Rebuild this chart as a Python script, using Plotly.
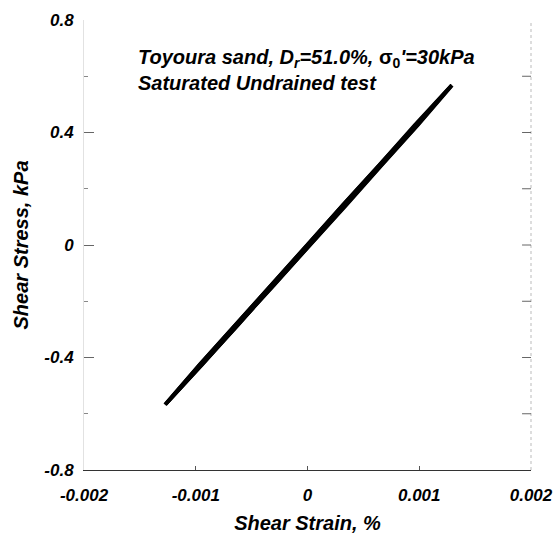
import plotly.graph_objects as go

# Stress-strain loops from a cyclic undrained test (three overlapping cycles)
strain_c1 = [-0.001275, -0.000950, -0.000630, -0.000300, 0.000020, 0.000345, 0.000662, 0.000985, 0.001293,
             0.000965, 0.000640, 0.000318, 0.000000, -0.000325, -0.000645, -0.000965, -0.001275]
stress_c1 = [-0.568, -0.426, -0.284, -0.142, 0.000, 0.142, 0.284, 0.426, 0.568,
             0.426, 0.284, 0.142, 0.000, -0.142, -0.284, -0.426, -0.568]

strain_c2 = [-0.001268, -0.000962, -0.000640, -0.000322, 0.000002, 0.000318, 0.000645, 0.000960, 0.001285,
             0.000980, 0.000660, 0.000342, 0.000018, -0.000300, -0.000625, -0.000945, -0.001268]
stress_c2 = [-0.565, -0.424, -0.282, -0.140, 0.002, 0.143, 0.285, 0.427, 0.566,
             0.425, 0.283, 0.141, -0.001, -0.143, -0.285, -0.427, -0.565]

strain_c3 = [-0.001262, -0.000945, -0.000620, -0.000312, 0.000012, 0.000335, 0.000650, 0.000975, 0.001280,
             0.000972, 0.000652, 0.000330, 0.000008, -0.000315, -0.000638, -0.000955, -0.001262]
stress_c3 = [-0.563, -0.427, -0.285, -0.143, 0.001, 0.141, 0.283, 0.425, 0.563,
             0.427, 0.285, 0.143, 0.001, -0.141, -0.283, -0.425, -0.563]

x_ticks = [-0.002, -0.001, 0, 0.001, 0.002]
x_labels = ["-0.002", "-0.001", "0", "0.001", "0.002"]
y_ticks = [-0.8, -0.4, 0, 0.4, 0.8]
y_labels = ["-0.8", "-0.4", "0", "0.4", "0.8"]
y_minor = [-0.6, -0.2, 0.2, 0.6]
right_ticks = [-0.6, -0.4, -0.2, 0, 0.2, 0.4, 0.6]

FONT = "Liberation Sans, Arial, sans-serif"
BI = dict(family=FONT, color="black", weight="bold", style="italic")

fig = go.Figure()
for sx, sy, w in [(strain_c1, stress_c1, 4.0), (strain_c2, stress_c2, 3.6), (strain_c3, stress_c3, 3.4)]:
    fig.add_trace(go.Scatter(x=sx, y=sy, mode="lines",
                             line=dict(color="black", width=w),
                             showlegend=False, hoverinfo="skip"))

fig.add_annotation(
    x=0.0, xref="paper", y=1.0, yref="paper",
    xanchor="left", yanchor="top", xshift=52, yshift=-24,
    align="left", showarrow=False,
    text=("<b><i>Toyoura sand, D<sub>r</sub>=51.0%, </i>σ<sub>0</sub><i>'=30kPa</i></b><br>"
          "<b><i>Saturated Undrained test</i></b>"),
    font=dict(family=FONT, size=20, color="black"),
)

fig.update_layout(
    width=558, height=536,
    margin=dict(l=84, r=27, t=20, b=66),
    paper_bgcolor="white", plot_bgcolor="white",
    font=dict(family=FONT, color="black"),
)

fig.update_xaxes(
    range=[-0.002, 0.002], tickvals=x_ticks, ticktext=x_labels,
    showgrid=False, zeroline=False, automargin=False,
    showline=True, linecolor="#333333", linewidth=1.2, mirror=False,
    ticks="inside", ticklen=4, tickcolor="#555555", ticklabelstandoff=9,
    tickfont=dict(BI, size=17),
    title=dict(text="Shear Strain, %", standoff=12, font=dict(BI, size=20)),
)
fig.update_yaxes(
    range=[-0.8, 0.8], tickvals=y_ticks, ticktext=y_labels,
    showgrid=False, zeroline=False, automargin=False,
    showline=True, linecolor="#e2e2e2", linewidth=1, mirror=False,
    ticks="inside", ticklen=10, tickcolor="#666666", ticklabelstandoff=6,
    minor=dict(tickvals=y_minor, ticks="inside", ticklen=4, tickcolor="#888888"),
    tickfont=dict(BI, size=17),
    title=dict(text="Shear Stress, kPa", standoff=10, font=dict(BI, size=20)),
)

# faint right-hand frame with short inward ticks
fig.add_shape(type="line", xref="paper", yref="paper", x0=1, x1=1, y0=0, y1=1,
              line=dict(color="#bbbbbb", width=1, dash="dot"))
for v in right_ticks:
    fig.add_shape(type="line", xref="paper", yref="y", x0=0.98, x1=1, y0=v, y1=v,
                  line=dict(color="#666666", width=1))

fig.write_html("out.html")
